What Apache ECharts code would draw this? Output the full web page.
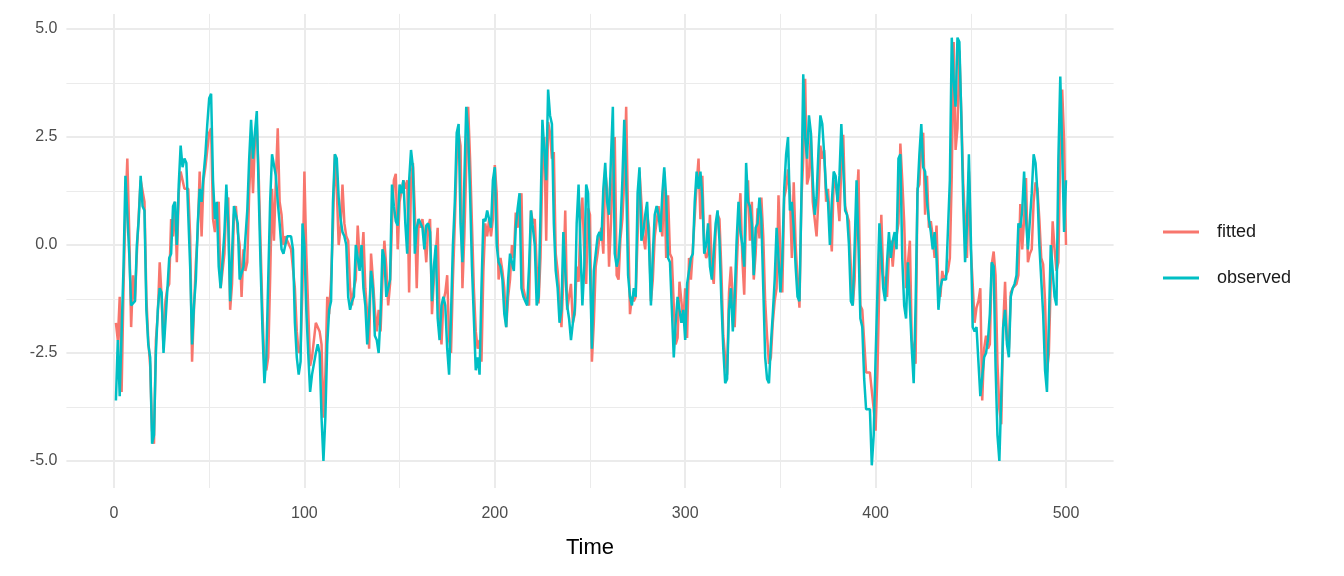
<!DOCTYPE html>
<html><head><meta charset="utf-8">
<script src="https://cdn.jsdelivr.net/npm/echarts@6/dist/echarts.min.js"></script>
<style>html,body{margin:0;padding:0;background:#fff}#c{width:1344px;height:576px}</style>
</head><body><div id="c"></div>
<script>
const observed = [
-3.6,-2.2,-3.5,-3.5,-0.5,1.6,1.6,-0.2,-1.4,-1.4,
-1.3,0.0,0.6,1.6,0.9,0.8,-1.5,-2.3,-2.6,-4.6,
-4.4,-2.5,-1.5,-1.0,-1.1,-2.5,-1.8,-1.8,-0.3,-0.2,
0.9,1.0,0.0,1.4,2.3,1.8,2.0,1.9,1.9,-0.5,
-2.3,-1.4,-0.8,0.5,1.3,1.0,1.6,2.1,2.8,3.4,
3.5,1.5,0.6,1.0,-0.5,-1.0,-1.0,0.3,1.4,0.5,
-1.3,-1.3,0.9,0.9,0.5,-0.8,-0.8,-0.5,-0.5,0.8,
2.0,2.9,2.0,2.6,3.1,1.2,-0.5,-2.0,-3.2,-2.6,
-0.8,1.0,2.1,2.1,1.6,1.0,0.5,-0.1,-0.2,0.0,
0.2,0.2,0.2,-0.1,-1.8,-2.6,-3.0,-2.7,0.5,0.0,
-1.5,-2.5,-3.4,-3.0,-3.0,-2.5,-2.3,-2.5,-4.0,-5.0,
-4.0,-2.3,-1.5,-1.3,1.0,2.1,2.0,1.1,0.6,0.3,
0.2,0.0,-1.2,-1.5,-1.3,-1.2,0.0,0.0,-0.6,0.0,
-1.0,-1.4,-2.3,-1.6,-0.6,-1.0,-2.1,-2.2,-2.5,-1.6,
-0.1,-0.3,-1.2,-1.0,-0.8,1.4,0.9,0.55,0.45,1.4,
1.2,1.5,0.5,-0.2,1.5,2.2,1.8,-0.2,0.4,0.6,
0.6,0.4,-0.1,0.45,0.5,0.3,-1.3,-0.5,0.0,-1.7,
-2.2,-1.4,-1.2,-1.4,-2.4,-3.0,-1.6,0.0,1.0,2.6,
2.8,0.5,-0.4,1.5,3.2,2.6,1.2,-0.5,-1.7,-2.9,
-2.6,-3.0,-1.0,0.6,0.55,0.8,0.8,0.4,1.5,1.8,
0.0,-0.4,-0.5,-0.8,-1.6,-1.9,-0.8,-0.2,-0.2,-0.6,
0.4,0.85,1.2,-1.0,-1.2,-1.3,-1.4,-0.5,0.8,0.8,
0.0,-1.4,-1.2,0.7,2.9,2.2,1.5,3.6,3.0,2.8,
0.5,-0.6,-1.0,-1.8,-1.5,0.3,-0.6,-1.4,-1.7,-2.2,
-1.8,-1.5,0.5,1.4,-0.1,-1.4,-0.5,1.4,1.2,-0.5,
-2.4,-0.6,-0.2,0.2,0.3,0.1,1.3,1.9,1.0,0.7,
2.0,3.2,-0.2,-0.5,-0.3,0.4,1.5,2.9,1.5,-0.7,
-1.2,-1.4,-1.0,-1.2,1.2,1.8,0.1,0.3,0.7,1.0,
0.0,-1.4,-0.2,0.7,0.9,0.7,0.3,1.2,1.8,1.1,
-0.3,-0.4,-1.5,-2.6,-1.8,-1.2,-1.5,-1.8,-1.5,-2.2,
-0.9,-0.6,-0.3,-0.2,1.0,1.7,1.3,1.7,1.1,-0.2,
0.0,0.5,-0.5,-0.8,-0.8,0.5,0.8,0.1,-1.3,-2.4,
-3.2,-3.1,-1.5,-1.0,-2.0,-1.2,0.1,1.0,0.3,0.0,
-0.5,1.9,1.0,0.9,0.5,-0.7,0.4,0.5,1.1,0.6,
-1.0,-2.6,-3.1,-3.2,-2.3,-1.6,-0.8,0.4,-0.3,-1.1,
-0.3,1.3,2.1,2.5,0.8,1.0,0.4,-0.5,-1.2,-1.3,
1.0,3.95,2.5,2.0,3.0,2.6,1.5,0.7,1.1,2.2,
3.0,2.8,2.1,1.3,1.0,0.0,1.0,1.7,1.6,1.0,
1.6,2.8,1.8,0.8,0.7,0.0,-1.3,-1.4,0.0,1.5,
0.0,-1.7,-1.9,-3.1,-3.8,-3.8,-3.8,-5.1,-4.4,-2.6,
-1.0,0.5,-0.2,-1.0,-1.3,-0.4,0.3,-0.3,0.1,0.3,
-0.1,2.0,2.1,-0.3,-1.4,-1.7,-0.4,-1.4,-2.4,-3.2,
-1.4,1.2,2.1,2.8,1.8,1.7,1.0,0.6,0.3,-0.1,
0.3,-0.3,-1.5,-1.0,-0.8,-0.8,-0.8,-0.8,1.5,4.8,
3.8,3.2,4.8,4.7,3.0,1.0,-0.4,0.5,2.1,0.2,
-1.9,-2.0,-1.9,-2.7,-3.5,-3.5,-2.6,-2.5,-2.2,-1.6,
-0.4,-0.5,-2.8,-4.4,-5.0,-3.5,-1.9,-1.5,-2.3,-2.6,
-1.2,-1.0,-0.9,-0.7,0.5,0.4,0.8,1.7,0.6,-0.1,
-0.1,1.2,2.1,1.9,1.2,0.0,-0.8,-1.6,-2.9,-3.4,
-1.8,0.0,0.0,-1.2,-1.4,2.0,3.9,2.2,0.3,1.5
];
const fitted = [
-1.8,-2.2,-1.2,-3.4,-1.0,0.8,2.0,0.3,-1.9,-0.7,
-1.3,-0.2,0.7,1.5,1.5,1.0,-1.2,-2.2,-2.8,-4.3,
-4.6,-2.2,-1.6,-0.4,-1.2,-2.4,-1.3,-1.0,-0.9,0.6,
0.2,1.0,-0.4,1.2,1.7,1.7,1.3,1.3,1.3,0.2,
-2.7,-1.5,-0.4,0.3,1.7,0.2,1.5,1.8,2.2,2.6,
2.7,0.6,0.3,0.8,1.0,-1.0,-0.6,-0.2,1.0,1.1,
-1.5,-0.9,0.7,0.9,0.3,0.0,-1.2,-0.1,-0.6,-0.4,
1.2,2.3,1.2,2.4,2.8,1.6,0.0,-1.6,-2.8,-2.9,
-2.6,-0.8,1.3,0.1,1.5,2.7,1.0,0.7,0.0,0.2,
0.2,0.0,-0.1,-0.1,-1.0,-2.0,-2.5,-2.4,-1.0,1.7,
-0.2,-1.5,-2.8,-2.6,-2.2,-1.8,-1.8,-2.0,-2.3,-4.0,
-3.0,-1.2,-1.6,-0.8,0.4,2.1,1.3,0.0,0.4,1.4,
0.5,0.2,0.1,-1.0,-1.4,-1.0,-0.8,0.45,-0.3,-0.4,
0.3,-1.0,-1.6,-2.4,-0.2,-0.8,-1.5,-2.0,-1.5,-2.0,
-0.8,0.1,-0.5,-1.4,-0.9,0.5,1.5,1.65,-0.1,1.0,
1.0,1.5,1.3,1.5,-1.1,1.5,1.9,0.8,-1.0,0.6,
0.4,0.6,0.2,-0.4,0.4,0.6,-1.6,-0.8,-0.2,0.4,
-1.8,-2.3,-1.3,-1.1,-0.7,-2.2,-2.5,-0.8,0.5,2.0,
2.6,2.3,-1.0,0.2,1.8,3.2,2.0,0.5,-1.0,-2.0,
-2.4,-2.2,-2.7,-0.6,0.5,0.2,0.6,0.2,0.6,1.85,
1.2,-0.8,-0.3,-0.6,-1.0,-1.9,-1.2,-0.8,0.0,-0.3,
0.75,0.4,0.9,1.2,-1.0,-1.2,-1.3,-1.4,0.8,0.5,
0.6,-0.5,-1.35,-0.3,1.8,2.5,0.1,2.85,2.6,2.0,
2.15,-0.2,-0.6,-1.2,-1.9,-0.8,0.8,-1.5,-1.2,-0.9,
-1.8,-1.6,-0.5,-0.85,0.6,1.1,-0.2,-0.9,0.85,0.7,
-2.7,-1.8,-0.5,-0.2,0.2,0.4,-0.2,1.7,1.3,-0.5,
0.5,1.8,2.5,-0.7,-0.8,0.15,0.6,1.5,3.2,0.6,
-1.6,-1.2,-1.3,-1.2,0.2,1.7,1.0,0.2,-0.1,0.7,
0.4,-1.3,-0.8,0.2,0.2,0.9,0.5,0.2,1.7,-0.3,
1.15,-0.2,-0.3,-1.4,-2.3,-2.15,-0.85,-1.3,-1.8,-1.0,
-2.15,-0.3,-0.8,-0.1,-0.1,1.4,2.0,0.6,1.6,0.0,
-0.3,-0.2,0.7,-0.6,-0.9,0.3,0.7,0.6,-0.6,-2.1,
-2.6,-3.0,-1.1,-0.5,-1.2,-1.9,-0.6,0.5,1.2,-0.3,
-1.15,0.85,1.5,0.1,1.0,-0.8,-0.2,0.85,0.15,1.1,
0.2,-1.3,-2.1,-2.75,-2.6,-1.8,-1.3,-1.0,1.15,-0.2,
-1.1,1.1,1.3,1.75,1.15,-0.3,1.45,0.0,-0.8,-1.45,
1.0,2.0,3.85,1.4,1.6,2.6,1.0,1.0,0.2,1.1,
2.3,2.0,2.2,1.0,1.3,0.5,-0.15,1.5,1.4,1.1,
0.55,1.8,2.55,0.9,0.7,0.55,-0.5,-1.4,-0.8,1.0,
1.75,-1.4,-1.5,-1.5,-2.95,-2.95,-2.95,-2.95,-3.8,-4.3,
-2.9,-0.8,0.7,-0.7,-0.9,-1.2,-0.2,0.1,-0.5,0.1,
0.2,0.5,2.35,1.5,0.55,-1.0,-0.4,0.1,-2.2,-2.4,
-2.75,1.3,1.4,2.3,2.6,0.7,1.6,0.4,0.55,0.2,
-0.3,0.45,-1.0,-1.2,-0.6,-0.8,-0.7,-0.6,-0.3,1.6,
4.7,2.2,2.7,4.5,3.1,1.45,0.5,-0.3,1.7,-0.1,
-0.9,-1.8,-1.45,-1.3,-1.0,-3.6,-2.4,-2.1,-2.4,-2.3,
-0.45,-0.15,-0.7,-2.75,-3.8,-4.15,-1.9,-0.85,-2.2,-2.4,
-1.1,-1.0,-1.0,-0.9,-0.7,0.95,-0.1,0.6,1.55,-0.4,
-0.2,-0.1,1.0,1.45,1.3,0.6,-0.3,-0.45,-1.3,-2.95,
-2.5,-0.85,0.55,-0.1,-0.6,-0.4,2.2,3.6,2.4,0.0
];
const seriesNames = ['fitted', 'observed'];
const xTickLabels = [0, 100, 200, 300, 400, 500];
const yTickLabels = [-5, -2.5, 0, 2.5, 5];
const xTitle = 'Time';

const time = observed.map((_, i) => i + 1);
const fittedData = fitted.map((v, i) => [time[i], v]);
const observedData = observed.map((v, i) => [time[i], v]);

const FONT = 'Helvetica, "Liberation Sans", Arial, sans-serif';
const GRID = '#EBEBEB';
const T = 'rgba(0,0,0,0)';

function xAxisCfg(major) {
  return {
    type: 'value', min: -25, max: 525, interval: 25, position: 'bottom',
    axisLine: {show: false}, axisTick: {show: false},
    axisLabel: major ? {
      show: true, color: '#4D4D4D', fontSize: 16, fontFamily: FONT, margin: 18,
      formatter: v => xTickLabels.includes(v) ? String(v) : ''
    } : {show: false},
    splitLine: {show: true, lineStyle: {
      color: major ? [T, GRID, T, T] : [T, T, T, GRID],
      width: major ? 2 : 1
    }},
    name: major ? xTitle : '', nameLocation: 'middle', nameGap: 49,
    nameTextStyle: {fontSize: 22, color: '#000', fontFamily: FONT}
  };
}
function yAxisCfg(major) {
  return {
    type: 'value', min: -5.625, max: 5.35, interval: 0.625, position: 'left',
    axisLine: {show: false}, axisTick: {show: false},
    axisLabel: major ? {
      show: true, color: '#4D4D4D', fontSize: 16, fontFamily: FONT, margin: 9,
      formatter: v => yTickLabels.includes(v) ? v.toFixed(1) : ''
    } : {show: false},
    splitLine: {show: true, lineStyle: {
      color: major ? [T, GRID, T, T] : [T, T, T, GRID],
      width: major ? 2 : 1
    }}
  };
}

const chart = echarts.init(document.getElementById('c'), null, {renderer: 'canvas'});
chart.setOption({
  animation: false,
  backgroundColor: '#fff',
  grid: {left: 66.4, right: 230.4, top: 13.9, bottom: 88, containLabel: false},
  xAxis: [xAxisCfg(true), xAxisCfg(false)],
  yAxis: [yAxisCfg(true), yAxisCfg(false)],
  legend: {
    orient: 'vertical', left: 1158, top: 216,
    itemWidth: 36, itemHeight: 3, itemGap: 24, icon: 'rect',
    data: seriesNames,
    textStyle: {fontSize: 18, color: '#1A1A1A', fontFamily: FONT, padding: [0, 0, 0, 13], lineHeight: 22}
  },
  series: [
    {name: seriesNames[0], type: 'line', data: fittedData, xAxisIndex: 0, yAxisIndex: 0,
     symbol: 'none', showSymbol: false, color: '#F8766D',
     lineStyle: {width: 2.5, color: '#F8766D'}, z: 2},
    {name: seriesNames[1], type: 'line', data: observedData, xAxisIndex: 0, yAxisIndex: 0,
     symbol: 'none', showSymbol: false, color: '#00BFC4',
     lineStyle: {width: 2.5, color: '#00BFC4'}, z: 3}
  ]
});
</script>
</body></html>
